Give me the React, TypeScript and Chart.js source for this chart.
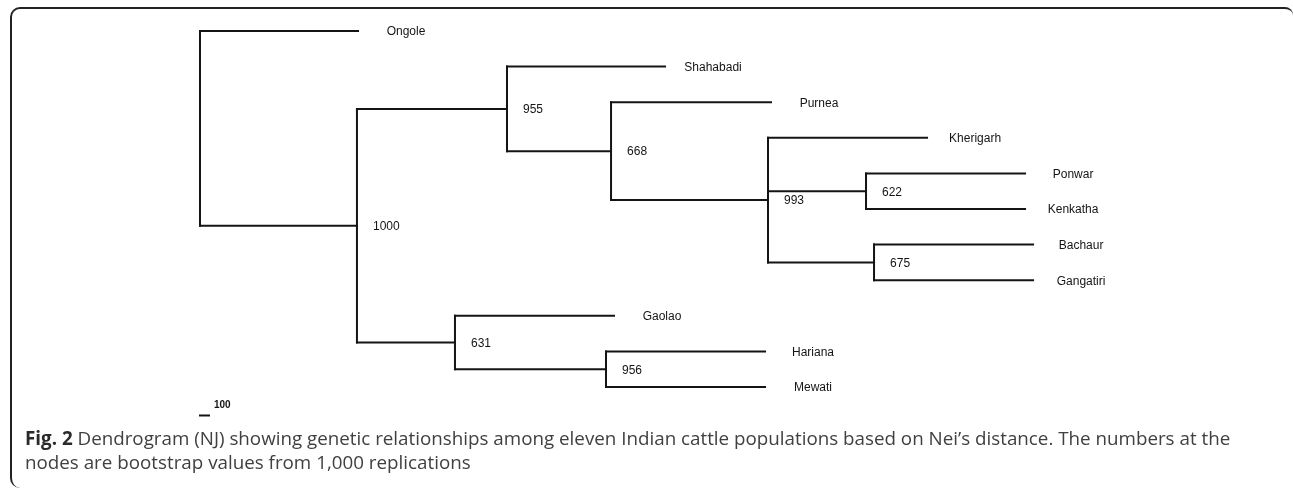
import React, { useEffect, useRef } from "react";
import { Chart, registerables } from "chart.js";

Chart.register(...registerables);

// Leaves, top to bottom
const leafLabels = ["Ongole", "Shahabadi", "Purnea", "Kherigarh", "Ponwar", "Kenkatha", "Bachaur", "Gangatiri", "Gaolao", "Hariana", "Mewati"];
const leafParents = ["root", "n955", "n668", "n993", "n622", "n622", "n675", "n675", "n631", "n956", "n956"];
const leafBranchLengths = [1756, 1756, 1777, 1767, 1767, 1767, 1767, 1767, 1767, 1767, 1767];

// Internal nodes
const nodeIds = ["root", "n1000", "n955", "n668", "n993", "n622", "n675", "n631", "n956"];
const nodeParents = [null, "root", "n1000", "n955", "n668", "n993", "n993", "n1000", "n631"];
const nodeBranchLengths = [0, 1744, 1667, 1156, 1744, 1089, 1178, 1089, 1678];
const bootstrapValues = [null, 1000, 955, 668, 993, 622, 675, 631, 956];

// Scale bar
const scaleBarLength = 100;
const scaleBarLabel = "100";
const scaleBarRow = 10.8;

const captionBold = "Fig. 2";
const captionLine1 = " Dendrogram (NJ) showing genetic relationships among eleven Indian cattle populations based on Nei\u2019s distance. The numbers at the";
const captionLine2 = "nodes are bootstrap values from 1,000 replications";

type Pos = { x: number; y: number };

function layoutTree() {
  const pos: Record<string, Pos> = {};
  const children: Record<string, string[]> = {};
  nodeIds.forEach((id) => (children[id] = []));
  nodeIds.forEach((id, i) => {
    const p = nodeParents[i];
    if (p) children[p].push(id);
  });
  leafLabels.forEach((l, i) => children[leafParents[i]].push("leaf:" + l));
  const blen: Record<string, number> = {};
  const parentOf: Record<string, string | null> = {};
  nodeIds.forEach((id, i) => {
    blen[id] = nodeBranchLengths[i];
    parentOf[id] = nodeParents[i];
  });
  leafLabels.forEach((l, i) => {
    blen["leaf:" + l] = leafBranchLengths[i];
    parentOf["leaf:" + l] = leafParents[i];
  });
  const setX = (id: string, px: number) => {
    const x = px + blen[id];
    pos[id] = { x, y: 0 };
    (children[id] || []).forEach((c) => setX(c, x));
  };
  setX("root", 0);
  const setY = (id: string): number => {
    if (id.startsWith("leaf:")) {
      const y = leafLabels.indexOf(id.slice(5));
      pos[id].y = y;
      return y;
    }
    const ys = children[id].map(setY);
    const y = (Math.min(...ys) + Math.max(...ys)) / 2;
    pos[id].y = y;
    return y;
  };
  setY("root");
  return { pos, children, parentOf };
}

export default function App() {
  const canvasRef = useRef<HTMLCanvasElement | null>(null);

  useEffect(() => {
    if (!canvasRef.current) return;
    const { pos, children, parentOf } = layoutTree();
    const segments: { x: number; y: number }[][] = [];
    Object.keys(pos).forEach((id) => {
      const p = parentOf[id];
      if (p) segments.push([{ x: pos[p].x, y: pos[id].y }, { x: pos[id].x, y: pos[id].y }]);
      const ch = children[id];
      if (ch && ch.length) {
        const ys = ch.map((c) => pos[c].y);
        segments.push([{ x: pos[id].x, y: Math.min(...ys) }, { x: pos[id].x, y: Math.max(...ys) }]);
      }
    });
    segments.push([{ x: 0, y: scaleBarRow }, { x: scaleBarLength, y: scaleBarRow }]);

    const labelPlugin = {
      id: "treeLabels",
      afterDatasetsDraw(chart: any) {
        const ctx = chart.ctx;
        const xs = chart.scales.x;
        const ys = chart.scales.y;
        ctx.save();
        ctx.fillStyle = "#141414";
        ctx.textBaseline = "middle";
        ctx.font = "12px 'Liberation Sans', Arial, sans-serif";
        ctx.textAlign = "center";
        leafLabels.forEach((l) => {
          const p = pos["leaf:" + l];
          ctx.fillText(l, xs.getPixelForValue(p.x) + 48, ys.getPixelForValue(p.y) + 1);
        });
        ctx.textAlign = "left";
        nodeIds.forEach((id, i) => {
          const b = bootstrapValues[i];
          if (b == null) return;
          const p = pos[id];
          ctx.fillText(String(b), xs.getPixelForValue(p.x) + 16, ys.getPixelForValue(p.y) + 1);
        });
        ctx.font = "bold 10px 'Liberation Sans', Arial, sans-serif";
        ctx.fillText(scaleBarLabel, xs.getPixelForValue(scaleBarLength) + 5, ys.getPixelForValue(scaleBarRow) - 10);
        ctx.restore();
      },
    };

    const chart = new Chart(canvasRef.current, {
      type: "scatter",
      data: {
        datasets: segments.map((s) => ({
          data: s,
          showLine: true,
          borderColor: "#141414",
          borderWidth: 2,
          borderCapStyle: "square" as const,
          pointRadius: 0,
          pointHoverRadius: 0,
        })),
      },
      options: {
        animation: false,
        responsive: false,
        devicePixelRatio: 1,
        layout: { padding: 0 },
        plugins: { legend: { display: false }, tooltip: { enabled: false }, title: { display: false } },
        scales: {
          x: { type: "linear", display: false, min: -2222, max: 12144 },
          y: { type: "linear", display: false, reverse: true, min: -0.871, max: 12.837 },
        },
      },
      plugins: [labelPlugin],
    });
    return () => chart.destroy();
  }, []);

  return (
    <div style={{ position: "fixed", left: 0, top: 0, width: 1293, height: 488, background: "#fff", overflow: "hidden" }}>
      <canvas ref={canvasRef} width={1293} height={488} style={{ position: "absolute", left: 0, top: 0 }} />
      <div
        style={{
          position: "absolute",
          left: 10,
          top: 7,
          width: 1281,
          height: 479,
          borderTop: "2px solid #222",
          borderLeft: "2px solid #222",
          borderTopLeftRadius: 10,
          borderTopRightRadius: 8,
          borderBottomLeftRadius: 10,
          pointerEvents: "none",
        }}
      />
      <div
        style={{
          position: "absolute",
          left: 25,
          top: 426,
          fontFamily: "'Open Sans', 'Noto Sans', sans-serif",
          fontSize: 18.8,
          lineHeight: "24px",
          color: "#404040",
          whiteSpace: "nowrap",
        }}
      >
        <div>
          <b style={{ color: "#2a2a2a" }}>{captionBold}</b>
          {captionLine1}
        </div>
        <div>{captionLine2}</div>
      </div>
    </div>
  );
}
